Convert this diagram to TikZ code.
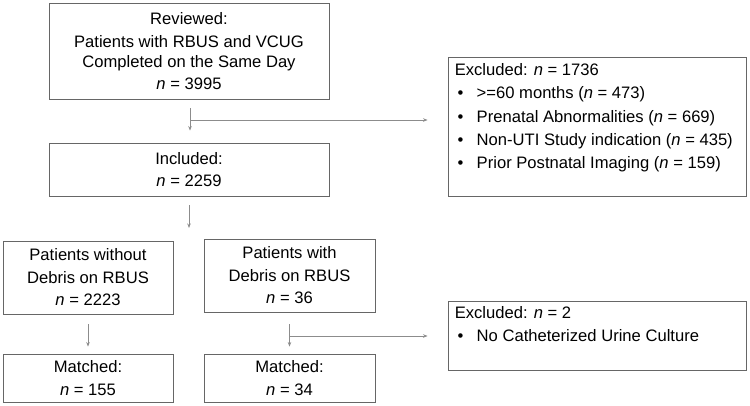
\documentclass[tikz,border=0pt]{standalone}
\usepackage{fontspec}
\setmainfont{Liberation Sans}
\usetikzlibrary{positioning,arrows.meta}
\colorlet{boxline}{black!60}
\colorlet{arrline}{black!45}

\begin{document}
\begin{tikzpicture}[x=1pt,y=-1pt,
        flowbox/.style={draw=boxline,line width=0.9pt,inner sep=0pt,align=center,
            font=\fontsize{16.6}{20.5}\selectfont},
        listtext/.style={inner sep=0pt,align=left,anchor=north west,
            font=\fontsize{16.6}{23.2}\selectfont},
        flowarr/.style={draw=arrline,line width=0.8pt,-{Stealth[length=4.5pt,width=3.5pt]}}
    ]
    \useasboundingbox (0,0) rectangle (750,405);
    % main column
    \node [flowbox,minimum width=280pt,minimum height=96pt] (reviewed) at (189,51)
        {Reviewed:\\[2pt] Patients with RBUS and VCUG\\ Completed on the Same Day\\[1pt] \textit{n} = 3995};
    \node [flowbox,minimum width=280pt,minimum height=53pt] (included) at (189,169.5)
        {Included:\\[2pt] \textit{n} = 2259};
    \node [flowbox,minimum width=170pt,minimum height=73pt] (without) at (88,277.5)
        {Patients without\\[2pt] Debris on RBUS\\[2pt] \textit{n} = 2223};
    \node [flowbox,minimum width=171pt,minimum height=73pt] (with) at (289.5,275.5)
        {Patients with\\[2pt] Debris on RBUS\\[2pt] \textit{n} = 36};
    \node [flowbox,minimum width=170pt,minimum height=48pt] (matchedA) at (88,378)
        {Matched:\\[2pt] \textit{n} = 155};
    \node [flowbox,minimum width=171pt,minimum height=48pt] (matchedB) at (289.5,378)
        {Matched:\\[2pt] \textit{n} = 34};
    % exclusion boxes
    \node [flowbox,minimum width=298pt,minimum height=139pt] (exclA) at (597,126.5) {};
    \node [listtext] (exclAtext) at ([xshift=7pt,yshift=-7pt]exclA.north west)
        {Excluded: \textit{n} = 1736\\
         \makebox[22pt][l]{\,\textbullet}>=60 months (\textit{n} = 473)\\
         \makebox[22pt][l]{\,\textbullet}Prenatal Abnormalities (\textit{n} = 669)\\
         \makebox[22pt][l]{\,\textbullet}Non-UTI Study indication (\textit{n} = 435)\\
         \makebox[22pt][l]{\,\textbullet}Prior Postnatal Imaging (\textit{n} = 159)};
    \node [flowbox,minimum width=298pt,minimum height=69pt] (exclB) at (597,335.5) {};
    \node [listtext] (exclBtext) at ([xshift=7pt,yshift=-6pt]exclB.north west)
        {Excluded: \textit{n} = 2\\
         \makebox[22pt][l]{\,\textbullet}No Catheterized Urine Culture};

    \coordinate (branchA) at (190,120);
    \coordinate (branchB) at (289.5,336);
    \coordinate (split) at (189,228);

    \draw [flowarr,shorten <=9pt,shorten >=12pt] (reviewed.south -| branchA) -- (included.north -| branchA);
    \draw [flowarr,shorten >=20pt] (branchA) -- (branchA -| exclA.west);
    \draw [flowarr,shorten <=9pt] (included.south -| split) -- (split);
    \draw [flowarr,shorten <=10pt,shorten >=7pt] (without.south) -- (matchedA.north);
    \draw [flowarr,shorten <=12pt,shorten >=7pt] (with.south) -- (matchedB.north);
    \draw [flowarr,shorten >=20pt] (branchB) -- (branchB -| exclB.west);
\end{tikzpicture}
\end{document}
